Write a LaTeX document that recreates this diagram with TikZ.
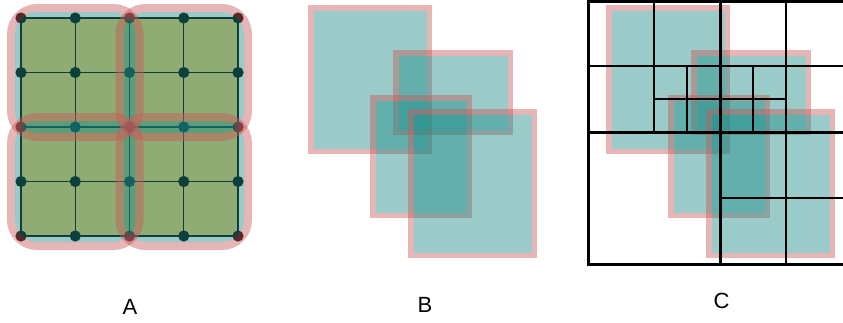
\documentclass[tikz,border=0pt]{standalone}
\usepackage{fontspec}
\setmainfont{Liberation Sans}
\definecolor{tealc}{RGB}{30,140,135}
\definecolor{pinkc}{RGB}{200,90,90}
\definecolor{greenc}{RGB}{239,198,99}
\newcommand\drawRects{%
  \foreach \a/\b/\c/\d in {308/5/432/154, 393/50/513/135, 370/95/472/218, 408/109/537/258}{%
    \fill[tealfill] ({\a+5.5},{\b+5.5}) rectangle ({\c-5.5},{\d-5.5});
    \draw[pinkB] ({\a+2.75},{\b+2.75}) rectangle ({\c-2.75},{\d-2.75});
  }}
\begin{document}
\begin{tikzpicture}[x=1pt,y=-1pt,
  tealfill/.style={fill=tealc,fill opacity=0.45},
  pinkA/.style={draw=pinkc,draw opacity=0.45,line width=8pt,rounded corners=26pt},
  pinkB/.style={draw=pinkc,draw opacity=0.45,line width=5.5pt},
  gridline/.style={draw=black,line width=1.4pt},
  qthick/.style={draw=black,line width=3pt},
  qmid/.style={draw=black,line width=2.6pt},
  qthin/.style={draw=black,line width=1.8pt},
  lbl/.style={font=\fontsize{22}{26}\selectfont,inner sep=0pt}]
\useasboundingbox (0,0) rectangle (843,322);
% ---------- panel A ----------
\foreach \i in {0,...,4}{
  \foreach \j in {0,...,4}{
    \coordinate (p\i\j) at ({21+54.25*\i},{18+54.5*\j});
  }}
\foreach \s/\e in {00/22,20/42,02/24,22/44}{
  \fill[greenc] (p\s) rectangle (p\e);
}
\foreach \i in {0,...,4}{
  \draw[gridline] (p\i0) -- (p\i4);
  \draw[gridline] (p0\i) -- (p4\i);
}
\foreach \i in {0,...,4}{
  \foreach \j in {0,...,4}{
    \fill[black] (p\i\j) circle (5.6);
  }}
\foreach \s/\e in {00/22,20/42,02/24,22/44}{
  \fill[tealfill,rounded corners=22pt] ([shift={(-6,-6)}]p\s) rectangle ([shift={(6,6)}]p\e);
}
\foreach \s/\e in {00/22,20/42,02/24,22/44}{
  \draw[pinkA] ([shift={(-10,-10)}]p\s) rectangle ([shift={(10,10)}]p\e);
}
% ---------- panel B ----------
\drawRects
% ---------- panel C ----------
\begin{scope}[xshift=298pt]
\drawRects
\end{scope}
\draw[qthick] (588,1) rectangle (852,264);
\draw[qthick] (720,1) -- (720,264);
\draw[qthick] (588,132) -- (852,132);
\draw[qmid] (654,1) -- (654,132);
\draw[qmid] (588,66) -- (852,66);
\draw[qmid] (786,1) -- (786,264);
\draw[qmid] (720,198) -- (852,198);
\draw[qthin] (687,66) -- (687,132);
\draw[qthin] (753,66) -- (753,132);
\draw[qthin] (654,99) -- (786,99);
% ---------- labels ----------
\node[lbl] (la) at (130,307) {A};
\node[lbl] (lb) at (425,305) {B};
\node[lbl] (lc) at (721.5,301) {C};
\end{tikzpicture}
\end{document}
